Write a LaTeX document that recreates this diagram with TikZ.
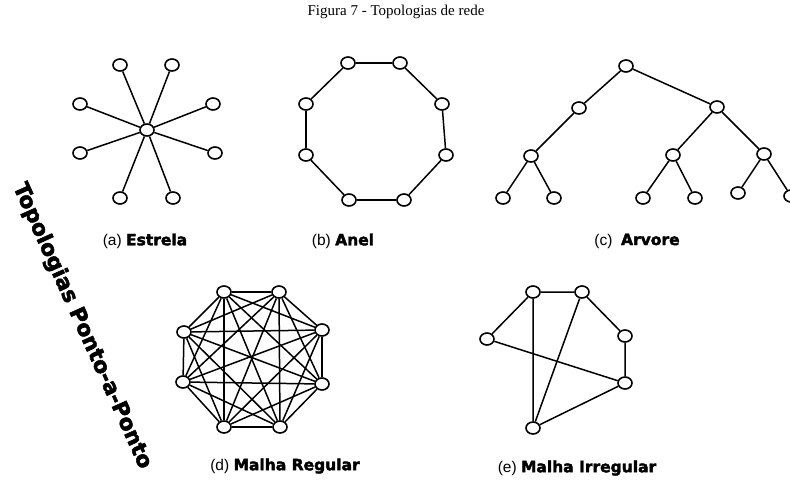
\documentclass[tikz,border=0pt]{standalone}
\usepackage{fontspec}
\setmainfont{Liberation Serif}
\setsansfont{Liberation Sans}
\newfontfamily\heavyfont[BoldFeatures={FakeBold=2.5}]{DejaVu Sans}
\usetikzlibrary{shapes.geometric,backgrounds}

\tikzset{
  nd/.style={ellipse,draw,line width=1.6pt,fill=white,inner sep=0pt,
    minimum width=14pt,minimum height=12pt},
  lnk/.style={line width=1.5pt},
  capt/.style={font=\sffamily\fontsize{15.5}{18}\selectfont}
}
\newcommand{\topname}[1]{{\heavyfont\bfseries #1}}

\begin{document}
\begin{tikzpicture}[x=1pt,y=-1pt]
\useasboundingbox (0,0) rectangle (790,483);
\node[font=\fontsize{15}{17}\selectfont] (title) at (396,12) {Figura 7 - Topologias de rede};

% (a) star
\node[nd] (s0) at (147,130) {};
\foreach \p [count=\i] in {(120,65),(172,65),(213,104),(215,153),(173,198),(120,198),(80,153),(80,104)}
  \node[nd] (s\i) at \p {};
\begin{scope}[on background layer]
  \foreach \i in {1,...,8} \draw[lnk] (s0) -- (s\i);
\end{scope}
\node[capt] (la) at (145,241) {(a) \topname{Estrela}};

% (b) ring
\foreach \p [count=\i] in {(348,63),(400,63),(442,104),(446,155),(404,200),(349,200),(306,155),(306,104)}
  \node[nd] (r\i) at \p {};
\begin{scope}[on background layer]
  \foreach \i in {1,...,8} {
    \pgfmathtruncatemacro{\k}{mod(\i,8)+1}
    \draw[lnk] (r\i) -- (r\k);
  }
\end{scope}
\node[capt] (lb) at (343,241) {(b) \topname{Anel}};

% (c) tree
\node[nd] (t0) at (626,66) {};
\node[nd] (t1) at (579,108) {};
\node[nd] (t2) at (717,107) {};
\node[nd] (t11) at (531,156) {};
\node[nd] (t21) at (673,155) {};
\node[nd] (t22) at (764,154) {};
\node[nd] (t111) at (503,198) {};
\node[nd] (t112) at (554,198) {};
\node[nd] (t211) at (643,198) {};
\node[nd] (t212) at (695,198) {};
\node[nd] (t221) at (738,193) {};
\node[nd] (t222) at (791,196) {};
\begin{scope}[on background layer]
  \draw[lnk] (t0) -- (t1) (t0) -- (t2) (t1) -- (t11) (t2) -- (t21) (t2) -- (t22);
  \draw[lnk] (t11) -- (t111) (t11) -- (t112) (t21) -- (t211) (t21) -- (t212)
    (t22) -- (t221) (t22) -- (t222);
\end{scope}
\node[capt] (lc) at (637,241) {(c)\ \ \topname{Arvore}};

% (d) full mesh
\foreach \p [count=\i] in {(224,292),(279,292),(322,330),(322,384),(280,427),(224,427),(183,382),(184,332)}
  \node[nd] (m\i) at \p {};
\begin{scope}[on background layer]
  \foreach \i in {1,...,7} {
    \pgfmathtruncatemacro{\k}{\i+1}
    \foreach \j in {\k,...,8} \draw[lnk] (m\i) -- (m\j);
  }
\end{scope}
\node[capt] (ld) at (285,466) {(d) \topname{Malha Regular}};

% (e) irregular mesh
\foreach \p [count=\i] in {(533,292),(582,292),(625,336),(625,383),(533,428),(487,339)}
  \node[nd] (e\i) at \p {};
\begin{scope}[on background layer]
  \draw[lnk] (e1) -- (e2) -- (e3) -- (e4) -- (e5) -- (e1) -- (e6) -- (e4);
  \draw[lnk] (e2) -- (e5);
\end{scope}
\node[capt] (le) at (577,468) {(e) \topname{Malha Irregular}};

% side title
\node[rotate=-65.8,font=\heavyfont\bfseries\fontsize{21.5}{24}\selectfont] (side) at (82,326)
  {Topologias Ponto-a-Ponto};
\end{tikzpicture}
\end{document}
